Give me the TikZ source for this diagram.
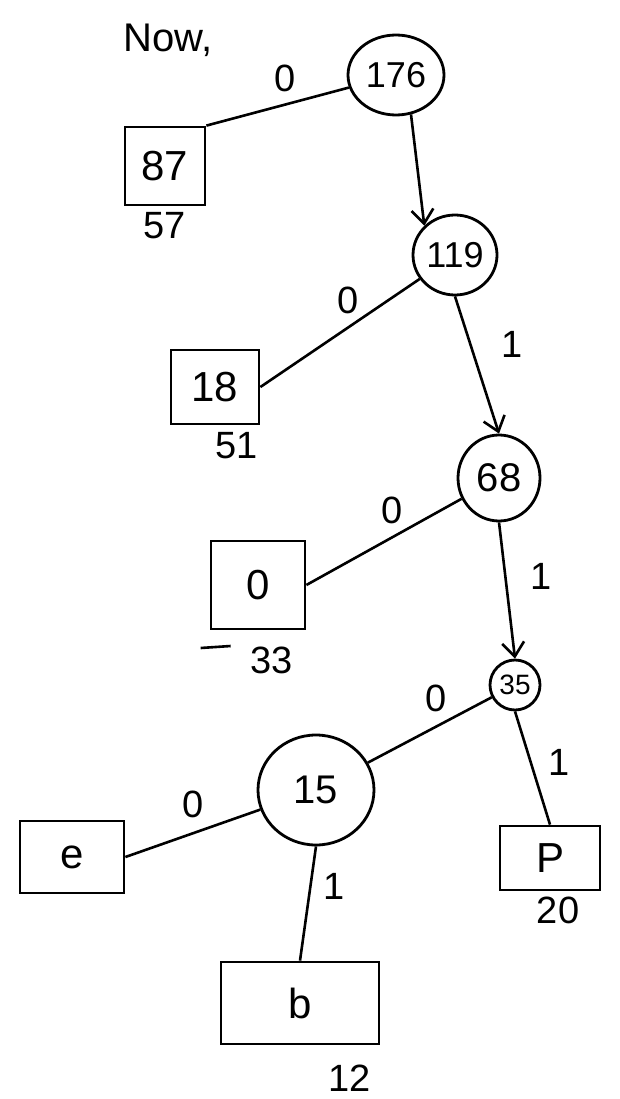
\documentclass[tikz,border=0pt]{standalone}
\usepackage{fontspec}
\setmainfont{Liberation Sans}
\usetikzlibrary{shapes.geometric,arrows.meta}
\begin{document}
\begin{tikzpicture}[x=1pt,y=-1pt,
  inner/.style={draw,ellipse,line width=2.8pt,inner sep=0pt,font=\fontsize{40}{44}\selectfont},
  leaf/.style={draw,rectangle,line width=2.8pt,inner sep=0pt,font=\fontsize{42}{46}\selectfont},
  lbl/.style={font=\fontsize{38}{42}\selectfont,inner sep=0pt},
  edge/.style={line width=2.6pt},
  arr/.style={line width=2.6pt,-{Straight Barb[length=14pt,width=22pt,line width=2.6pt]}}]
\useasboundingbox (0,0) rectangle (620,1099);
\fill[white] (0,0) rectangle (620,1099);
% title
\node[lbl,font=\fontsize{40}{44}\selectfont] (now) at (168,40) {Now,};
% inner nodes
\node[inner,minimum width=96pt,minimum height=80pt,font=\fontsize{36}{40}\selectfont] (n176) at (396,75) {176};
\node[inner,minimum width=84pt,minimum height=80pt,font=\fontsize{36}{40}\selectfont] (n119) at (455,255) {119};
\node[inner,minimum width=82pt,minimum height=86pt] (n68) at (499,478) {68};
\node[inner,minimum width=50pt,minimum height=50pt,font=\fontsize{28}{32}\selectfont] (n35) at (515,685) {35};
\node[inner,minimum width=116pt,minimum height=110pt] (n15) at (316,790) {15};
% leaves
\node[leaf,minimum width=80pt,minimum height=78pt] (l87) at (165,166) {87};
\node[leaf,minimum width=88pt,minimum height=74pt] (l18) at (215,387) {18};
\node[leaf,minimum width=94pt,minimum height=88pt] (l0) at (258,585) {0};
\node[leaf,minimum width=104pt,minimum height=72pt] (le) at (72,857) {e};
\node[leaf,minimum width=100pt,minimum height=64pt] (lp) at (550,858) {P};
\node[leaf,minimum width=158pt,minimum height=82pt] (lb) at (300,1003) {b};
% weights
\node[lbl] (w57) at (165,226) {57};
\node[lbl] (w51) at (237,446) {51};
\node[lbl] (w33) at (272,660) {33};
\node[lbl] (w20) at (558,910) {20};
\node[lbl] (w12) at (350,1078) {12};
\draw[edge] (w33.west) ++(-20,-14) coordinate (d1) -- ++(-30,2) coordinate (d2);
% edges
\draw[edge] (n176) -- (l87.north east) node[lbl,pos=0.45,above=12pt] {0};
\draw[arr] (n176.south) ++(15,-2) coordinate (a1) -- (n119.north west);
\draw[edge] (n119) -- (l18.east) node[lbl,pos=0.45,above=12pt] {0};
\draw[arr] (n119.south) -- (n68.north) node[lbl,pos=0.35,right=30pt] {1};
\draw[edge] (n68) -- (l0.east) node[lbl,pos=0.45,above=12pt] {0};
\draw[arr] (n68.south) -- (n35.north) node[lbl,pos=0.4,right=24pt] {1};
\draw[edge] (n35) -- (n15) node[lbl,pos=0.45,above=14pt] {0};
\draw[edge] (n35.south) -- (lp.north) node[lbl,pos=0.45,right=16pt] {1};
\draw[edge] (n15) -- (le.east) node[lbl,pos=0.5,above=14pt] {0};
\draw[edge] (n15.south) -- (lb.north) node[lbl,pos=0.35,right=12pt] {1};
\end{tikzpicture}
\end{document}
